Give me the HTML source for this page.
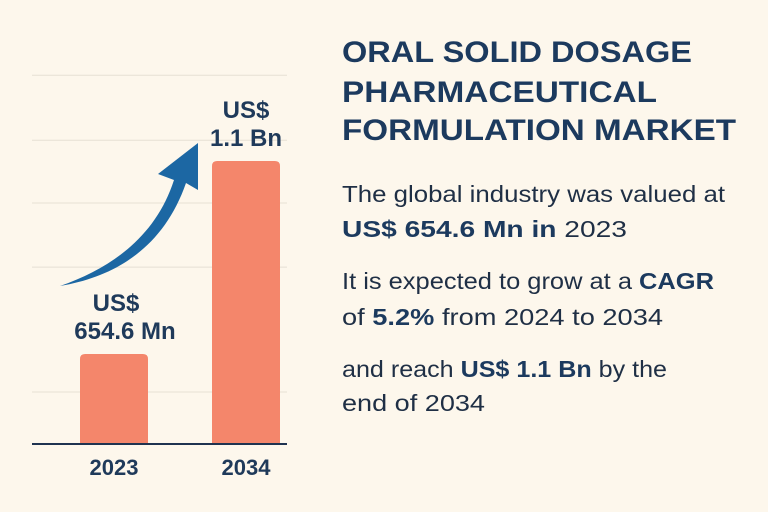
<!DOCTYPE html>
<html><head><meta charset="utf-8"><style>
html,body{margin:0;padding:0;background:#fdf7ec;}
svg{display:block;font-family:"Liberation Sans",Arial,sans-serif;}
</style></head><body>
<svg id="chart" width="768" height="512" viewBox="0 0 768 512" xmlns="http://www.w3.org/2000/svg">
<rect width="768" height="512" fill="#fdf7ec"/>
<g id="grid"></g>
<g id="bars"></g>
<path d="M60,286 C112,268 156,236 174,180 L158,174 L198,143 L198,190 L186,183 C164,246 118,276 60,286 Z" fill="#1c67a3"/>
<line x1="32" y1="444" x2="287" y2="444" stroke="#1f3350" stroke-width="2"/>
<g id="labels" font-weight="bold" fill="#1f3a5a" text-anchor="middle"></g>
<g font-weight="bold" fill="#1c3a5e" font-size="30">
<text x="342" y="62" textLength="350" lengthAdjust="spacingAndGlyphs">ORAL SOLID DOSAGE</text>
<text x="342" y="102" textLength="315" lengthAdjust="spacingAndGlyphs">PHARMACEUTICAL</text>
<text x="342" y="140" textLength="394" lengthAdjust="spacingAndGlyphs">FORMULATION MARKET</text>
</g>
<g fill="#1f2f45" font-size="23">
<text x="342" y="202" textLength="383" lengthAdjust="spacingAndGlyphs">The global industry was valued at</text>
<text x="342" y="237" textLength="285" lengthAdjust="spacingAndGlyphs"><tspan font-weight="bold" fill="#1c3a5e">US$ 654.6 Mn in</tspan> 2023</text>
<text x="342" y="289" textLength="372" lengthAdjust="spacingAndGlyphs">It is expected to grow at a <tspan font-weight="bold" fill="#1c3a5e">CAGR</tspan></text>
<text x="342" y="325" textLength="321" lengthAdjust="spacingAndGlyphs">of <tspan font-weight="bold" fill="#1c3a5e">5.2%</tspan> from 2024 to 2034</text>
<text x="342" y="377" textLength="325" lengthAdjust="spacingAndGlyphs">and reach <tspan font-weight="bold" fill="#1c3a5e">US$ 1.1 Bn</tspan> by the</text>
<text x="342" y="411" textLength="143" lengthAdjust="spacingAndGlyphs">end of 2034</text>
</g>
</svg>
<script>
const categories = ["2023", "2034"];
const values = [654.6, 1100];
const valueLabels1 = ["US$", "US$"];
const valueLabels2 = ["654.6 Mn", "1.1 Bn"];
const gridTicks = [567, 855, 1003, 1148, 1298];

const NS = "http://www.w3.org/2000/svg";
const axisY = 444;
function y(v){ return 354 - (v - 654.6) * (193 / 445.4); }
function x(i){ return 80 + i * 132; }
const barW = 68;

const grid = document.getElementById('grid');
gridTicks.forEach(t => {
  const l = document.createElementNS(NS, 'line');
  
  
  l.setAttribute('x1', 32); l.setAttribute('x2', 287);
  l.setAttribute('y1', y(t)); l.setAttribute('y2', y(t));
  l.setAttribute('stroke', '#e6e0d4'); l.setAttribute('stroke-width', '1');
  grid.appendChild(l);
});

const bars = document.getElementById('bars');
const labels = document.getElementById('labels');
categories.forEach((c, i) => {
  const top = y(values[i]);
  const r = document.createElementNS(NS, 'path');
  
  
  const x0 = x(i), x1 = x(i) + barW, rad = 5;
  r.setAttribute('d', `M${x0},${axisY} L${x0},${top+rad} Q${x0},${top} ${x0+rad},${top} L${x1-rad},${top} Q${x1},${top} ${x1},${top+rad} L${x1},${axisY} Z`);
  r.setAttribute('fill', '#f4866b');
  bars.appendChild(r);

  const cx = x(i) + barW / 2;
  const t1 = document.createElementNS(NS, 'text');
  
  
  t1.setAttribute('x', cx + (i === 0 ? 2 : 0)); t1.setAttribute('y', top - 43);
  t1.setAttribute('font-size', '24');
  t1.textContent = valueLabels1[i];
  labels.appendChild(t1);
  const t2 = document.createElementNS(NS, 'text');
  
  
  t2.setAttribute('x', cx + (i === 0 ? 11 : 0)); t2.setAttribute('y', top - 15);
  t2.setAttribute('font-size', '24');
  t2.textContent = valueLabels2[i];
  labels.appendChild(t2);

  const tx = document.createElementNS(NS, 'text');
  
  
  tx.setAttribute('x', cx); tx.setAttribute('y', 475);
  tx.setAttribute('font-size', '22');
  tx.textContent = c;
  labels.appendChild(tx);
});
</script>
</body></html>
